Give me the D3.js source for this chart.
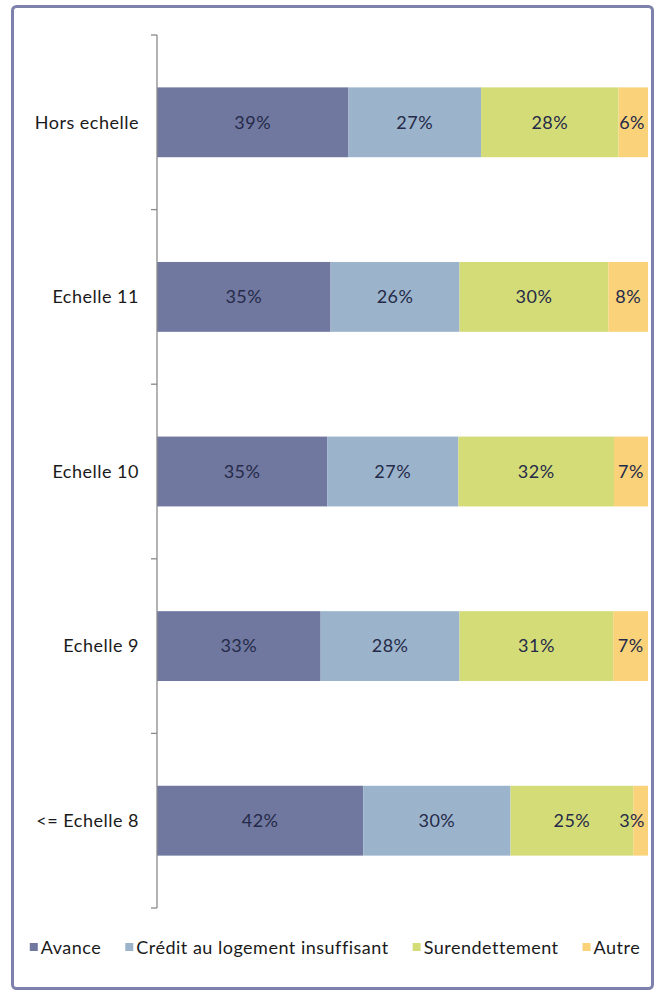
<!DOCTYPE html>
<html>
<head>
<meta charset="utf-8">
<script src="https://cdn.jsdelivr.net/npm/d3@7"></script>
<style>
  body { margin: 0; background: #fff; }
  svg { display: block; font-family: Lato, "Open Sans", sans-serif; letter-spacing: 0.5px; }
</style>
</head>
<body>
<div id="chart"></div>
<script>
// categories top to bottom
var categories = ["Hors echelle", "Echelle 11", "Echelle 10", "Echelle 9", "<= Echelle 8"];
var seriesNames = ["Avance", "Crédit au logement insuffisant", "Surendettement", "Autre"];

// percentages per category, same order as seriesNames
var avance = [39, 35, 35, 33, 42];
var credit = [27, 26, 27, 28, 30];
var surendettement = [28, 30, 32, 31, 25];
var autre = [6, 8, 7, 7, 3];

var colors = ["#7078a0", "#9bb4cc", "#d4dc78", "#f9d27a"];

(function() {
  var width = 660,
      height = 993;

  var svg = d3.select("#chart")
    .append("svg")
    .attr("width", width)
    .attr("height", height);

  // frame
  svg.append("rect")
    .attr("x", 12.5).attr("y", 6.5)
    .attr("width", 640).attr("height", 982)
    .attr("rx", 4)
    .attr("fill", "#fff")
    .attr("stroke", "#7d81ab")
    .attr("stroke-width", 3);

  var rows = categories.map(function(c, i) {
    return { cat: c, "Avance": avance[i], "Crédit au logement insuffisant": credit[i],
             "Surendettement": surendettement[i], "Autre": autre[i] };
  });

  // 100% stacked, like the original (labels are rounded so totals are 99-101)
  var stack = d3.stack().keys(seriesNames).offset(d3.stackOffsetExpand);
  var layers = stack(rows);

  var x = d3.scaleLinear().domain([0, 1]).range([157, 648]);
  var y = d3.scaleBand().domain(categories).range([35, 908])
    .paddingInner(0.6).paddingOuter(0.3);

  var groups = svg.selectAll(".layer")
    .data(layers)
    .enter().append("g")
    .attr("class", "layer")
    .attr("fill", function(d, i) { return colors[i]; });

  groups.selectAll("rect")
    .data(function(d) { return d; })
    .enter().append("rect")
    .attr("x", function(d) { return x(d[0]); })
    .attr("y", function(d) { return y(d.data.cat); })
    .attr("width", function(d) { return x(d[1]) - x(d[0]); })
    .attr("height", y.bandwidth());

  // data labels
  groups.each(function(layer) {
    var key = layer.key;
    d3.select(this).selectAll("text")
      .data(layer)
      .enter().append("text")
      .attr("y", function(d) { return y(d.data.cat) + y.bandwidth() / 2; })
      .attr("dy", "0.35em")
      .attr("text-anchor", "middle")
      .attr("font-size", 18)
      .attr("fill", "#252a48")
      .text(function(d) { return d.data[key] + "%"; })
      .attr("x", function(d) {
        var cx = (x(d[0]) + x(d[1])) / 2;
        var w = this.getComputedTextLength();
        return Math.min(cx, x(1) - w / 2 - 3);
      });
  });

  // axis line, ticks at band boundaries
  var axis = svg.append("g").attr("class", "axis");
  axis.append("line")
    .attr("x1", 157).attr("x2", 157)
    .attr("y1", y.range()[0]).attr("y2", y.range()[1])
    .attr("stroke", "#8a8a8a").attr("stroke-width", 1.3);

  var bounds = categories.map(function(c) { return y(c) - y.step() * y.paddingInner() / 2; });
  bounds.push(y.range()[1]);
  axis.selectAll(".tick")
    .data(bounds)
    .enter().append("line")
    .attr("class", "tick")
    .attr("x1", 151).attr("x2", 157)
    .attr("y1", function(d) { return d; }).attr("y2", function(d) { return d; })
    .attr("stroke", "#8a8a8a").attr("stroke-width", 1.3);

  axis.selectAll(".label")
    .data(categories)
    .enter().append("text")
    .attr("class", "label")
    .attr("x", 139)
    .attr("y", function(d) { return y(d) + y.bandwidth() / 2; })
    .attr("dy", "0.35em")
    .attr("text-anchor", "end")
    .attr("font-size", 18)
    .attr("fill", "#1a1a1a")
    .text(function(d) { return d; });

  // legend
  var legend = svg.append("g").attr("class", "legend");
  var lx = 0, gap = 24, sq = 8;
  seriesNames.forEach(function(name, i) {
    var g = legend.append("g");
    g.append("rect")
      .attr("width", sq).attr("height", sq)
      .attr("y", -sq / 2 - 1)
      .attr("fill", colors[i]);
    var t = g.append("text")
      .attr("x", sq + 3)
      .attr("dy", "0.35em")
      .attr("font-size", 18)
      .attr("fill", "#1a1a1a")
      .text(name);
    var w = sq + 3 + t.node().getComputedTextLength();
    g.attr("transform", "translate(" + lx + ",0)");
    lx += w + gap;
  });
  var total = lx - gap;
  legend.attr("transform", "translate(" + (335 - total / 2) + ",948)");
})();
</script>
</body>
</html>
